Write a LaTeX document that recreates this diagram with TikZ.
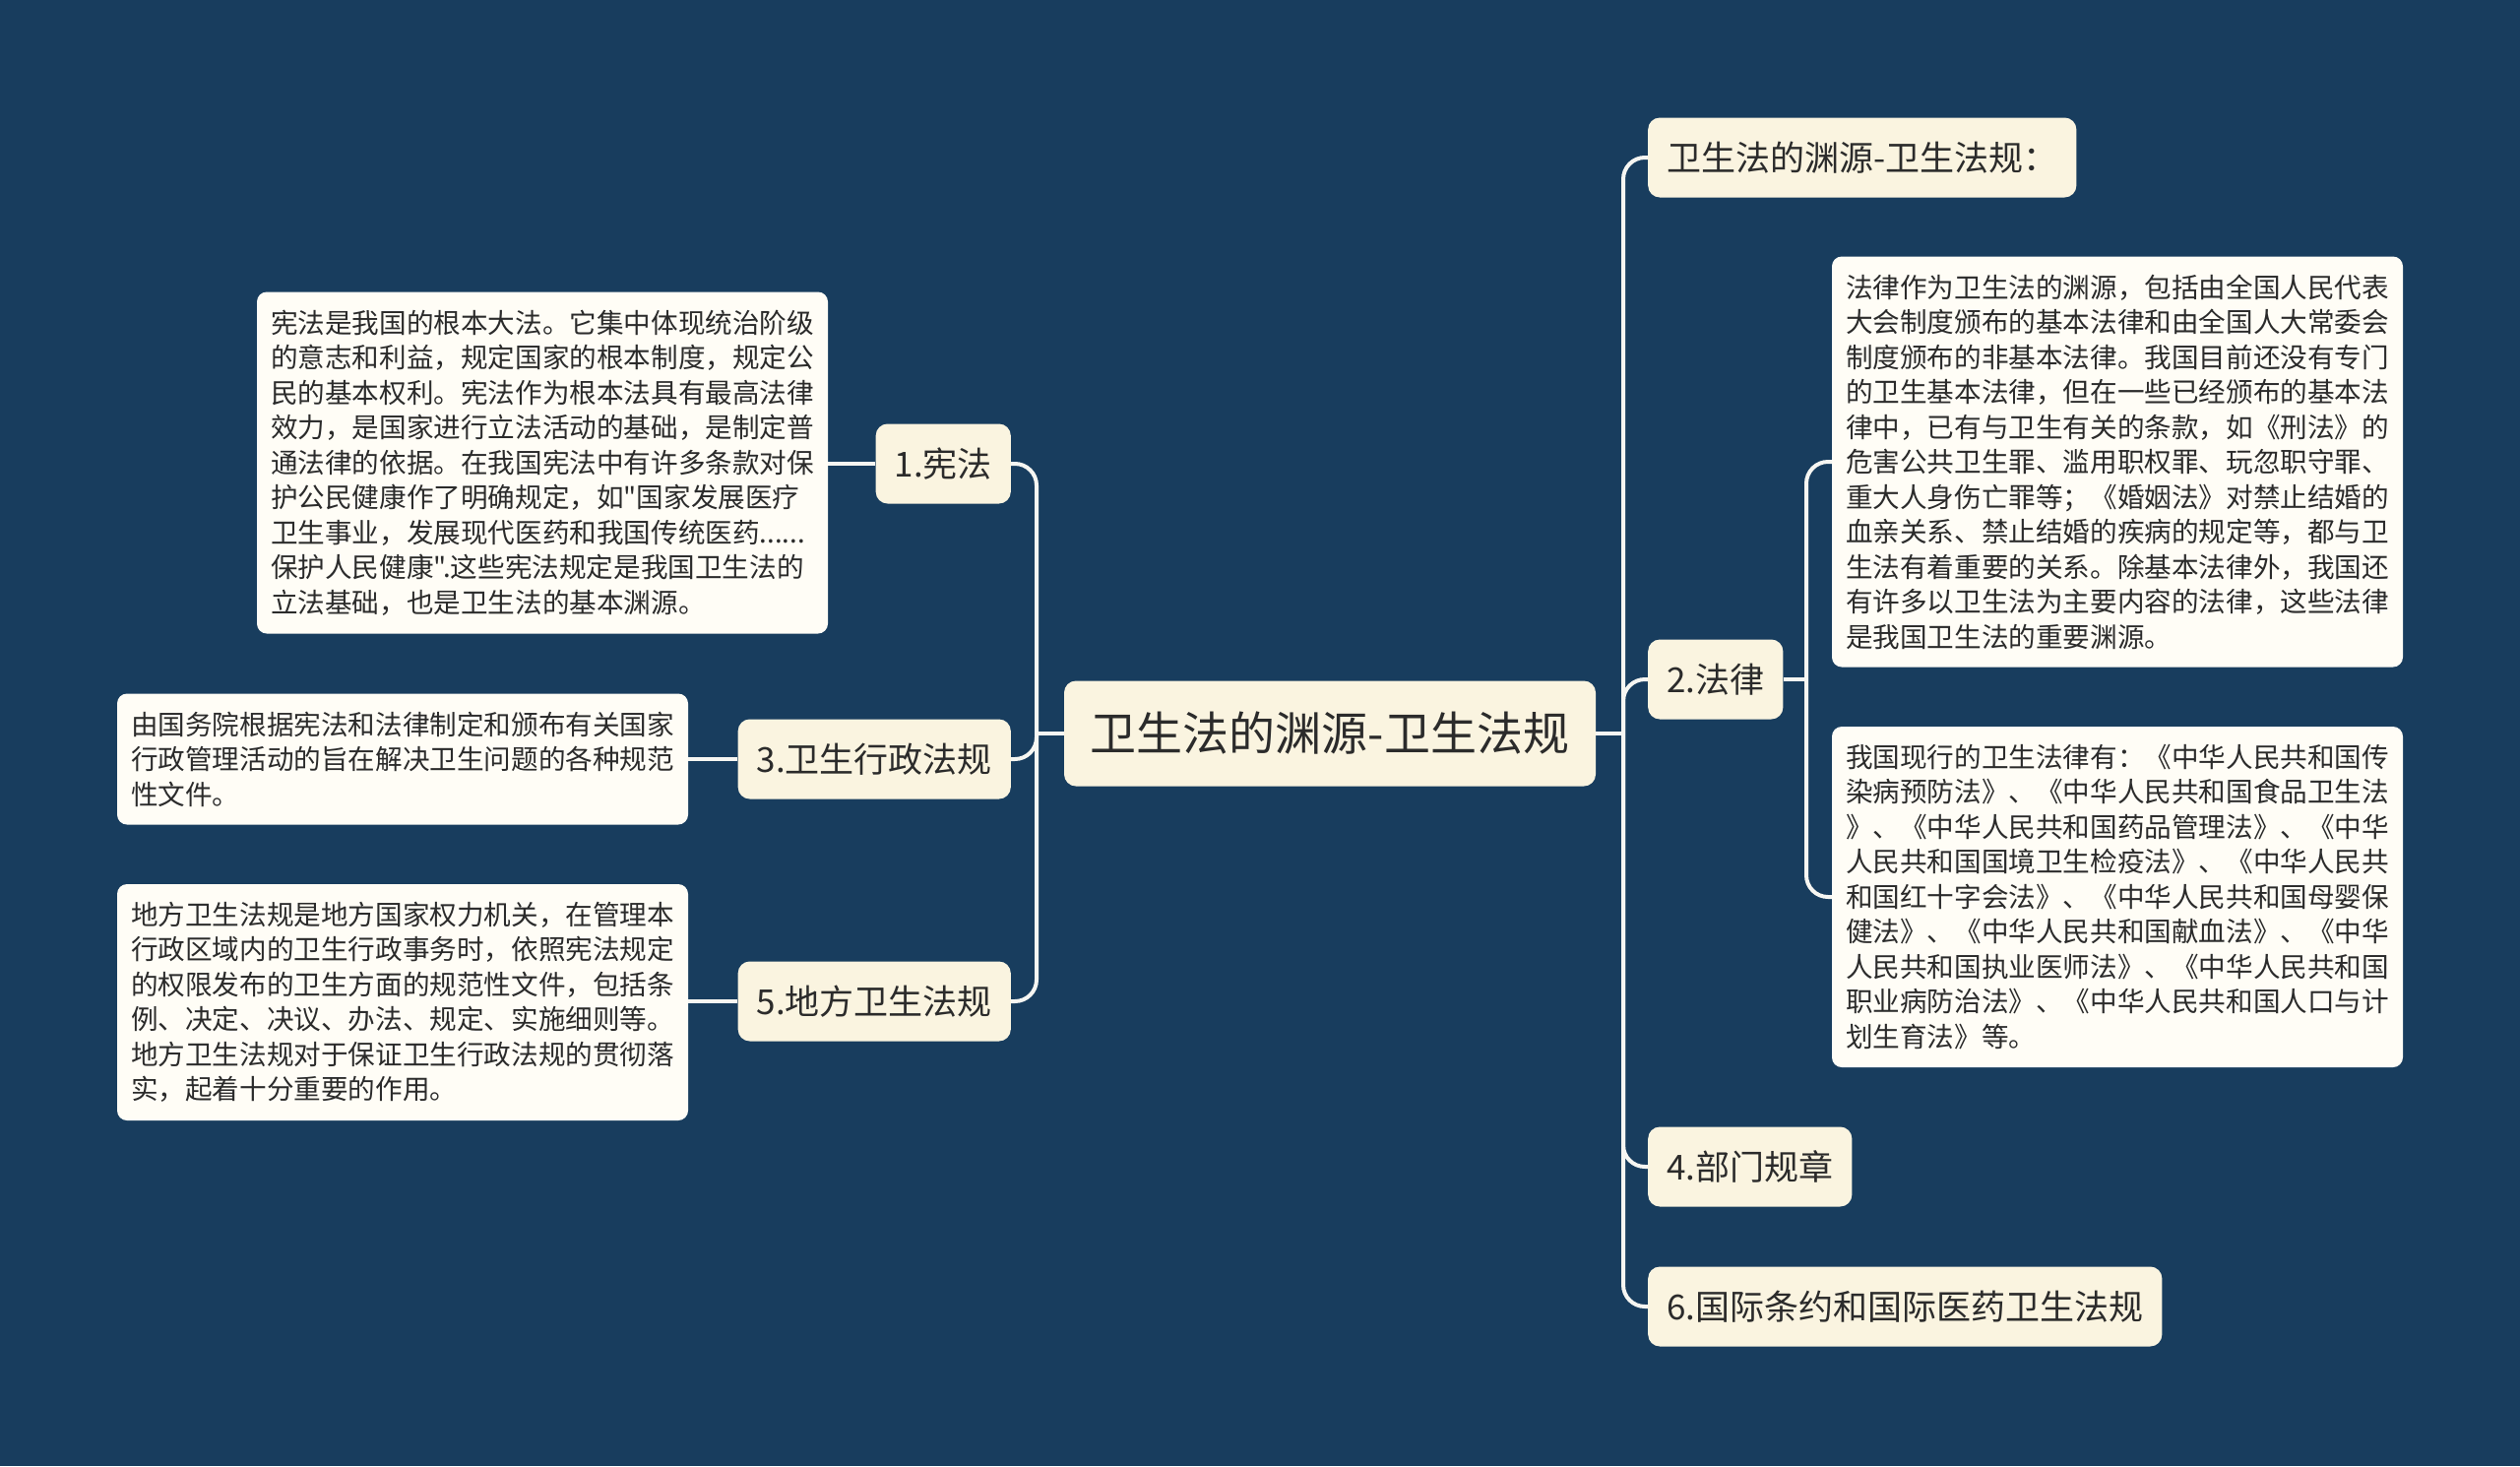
\documentclass[tikz,border=0pt]{standalone}
\usepackage{fontspec}
\setmainfont{Noto Sans CJK SC}
\newfontfamily\cjk{Noto Sans CJK SC}
\usetikzlibrary{calc}
\definecolor{bgc}{HTML}{183D5E}
\definecolor{nodec}{HTML}{FAF4E0}
\definecolor{boxc}{HTML}{FFFDF6}
\definecolor{txtc}{HTML}{2B2B2B}
\definecolor{linec}{HTML}{F6F6F2}
\tikzset{
  rootnode/.style={fill=nodec, rounded corners=12pt, text=txtc, inner xsep=18pt,
    minimum width=540pt, minimum height=107pt, font=\cjk\fontsize{47}{56}\selectfont},
  mainnode/.style={fill=nodec, rounded corners=12pt, text=txtc, inner xsep=19pt,
    minimum height=81pt, font=\cjk\fontsize{35}{42}\selectfont},
  textbox/.style={fill=boxc, rounded corners=10pt, text=txtc, inner xsep=14pt,
    text width=552pt, align=left, font=\cjk\fontsize{27.6}{35.5}\selectfont},
  conn/.style={draw=linec, line width=4pt, rounded corners=22pt},
}
\begin{document}
\begin{tikzpicture}[x=1pt,y=-1pt]
\fill[bgc] (0,0) rectangle (2560,1489);
\useasboundingbox (0,0) rectangle (2560,1489);

% root
\node[rootnode] (root) at (1351,745) {卫生法的渊源-卫生法规};

% left main nodes
\node[mainnode, anchor=east] (n1) at (1027,471) {1.宪法};
\node[mainnode, anchor=east] (n3) at (1027,771) {3.卫生行政法规};
\node[mainnode, anchor=east] (n5) at (1027,1017) {5.地方卫生法规};

% right main nodes
\node[mainnode, anchor=west] (t0) at (1674,160) {卫生法的渊源-卫生法规：};
\node[mainnode, anchor=west] (n2) at (1674,690) {2.法律};
\node[mainnode, anchor=west] (n4) at (1674,1185) {4.部门规章};
\node[mainnode, anchor=west] (n6) at (1674,1327) {6.国际条约和国际医药卫生法规};

% text boxes
\node[textbox, minimum height=347pt] (x1) at (551,470) {宪法是我国的根本大法。它集中体现统治阶级\\
的意志和利益，规定国家的根本制度，规定公\\
民的基本权利。宪法作为根本法具有最高法律\\
效力，是国家进行立法活动的基础，是制定普\\
通法律的依据。在我国宪法中有许多条款对保\\
护公民健康作了明确规定，如"国家发展医疗\\
卫生事业，发展现代医药和我国传统医药......\\
保护人民健康".这些宪法规定是我国卫生法的\\
立法基础，也是卫生法的基本渊源。};

\node[textbox, minimum height=133pt] (x3) at (409,771) {由国务院根据宪法和法律制定和颁布有关国家\\
行政管理活动的旨在解决卫生问题的各种规范\\
性文件。};

\node[textbox, minimum height=240pt] (x5) at (409,1018) {地方卫生法规是地方国家权力机关，在管理本\\
行政区域内的卫生行政事务时，依照宪法规定\\
的权限发布的卫生方面的规范性文件，包括条\\
例、决定、决议、办法、规定、实施细则等。\\
地方卫生法规对于保证卫生行政法规的贯彻落\\
实，起着十分重要的作用。};

\node[textbox, minimum height=417pt] (x2a) at (2151,469) {法律作为卫生法的渊源，包括由全国人民代表\\
大会制度颁布的基本法律和由全国人大常委会\\
制度颁布的非基本法律。我国目前还没有专门\\
的卫生基本法律，但在一些已经颁布的基本法\\
律中，已有与卫生有关的条款，如《刑法》的\\
危害公共卫生罪、滥用职权罪、玩忽职守罪、\\
重大人身伤亡罪等；《婚姻法》对禁止结婚的\\
血亲关系、禁止结婚的疾病的规定等，都与卫\\
生法有着重要的关系。除基本法律外，我国还\\
有许多以卫生法为主要内容的法律，这些法律\\
是我国卫生法的重要渊源。};

\node[textbox, minimum height=346pt] (x2b) at (2151,911) {我国现行的卫生法律有：《中华人民共和国传\\
染病预防法》、《中华人民共和国食品卫生法\\
》、《中华人民共和国药品管理法》、《中华\\
人民共和国国境卫生检疫法》、《中华人民共\\
和国红十字会法》、《中华人民共和国母婴保\\
健法》、《中华人民共和国献血法》、《中华\\
人民共和国执业医师法》、《中华人民共和国\\
职业病防治法》、《中华人民共和国人口与计\\
划生育法》等。};

% connectors
\coordinate (ls) at (1053,745);
\coordinate (rs) at (1649,745);
\coordinate (r2) at (1835,690);

\begin{scope}[on background layer/.style={}]
\draw[conn] (root.west) -- (ls);
\draw[conn] (ls) |- (n1.east);
\draw[conn] (ls) |- (n3.east);
\draw[conn] (ls) |- (n5.east);
\draw[conn] (root.east) -- (rs);
\draw[conn] (rs) |- (t0.west);
\draw[conn] (rs) |- (n2.west);
\draw[conn] (rs) |- (n4.west);
\draw[conn] (rs) |- (n6.west);
\draw[conn] (n1.west) -- (n1.west -| x1.east);
\draw[conn] (n3.west) -- (n3.west -| x3.east);
\draw[conn] (n5.west) -- (n5.west -| x5.east);
\draw[conn] (n2.east) -- (r2);
\draw[conn] (r2) |- (x2a.west);
\draw[conn] (r2) |- (x2b.west);
\end{scope}
\end{tikzpicture}
\end{document}
